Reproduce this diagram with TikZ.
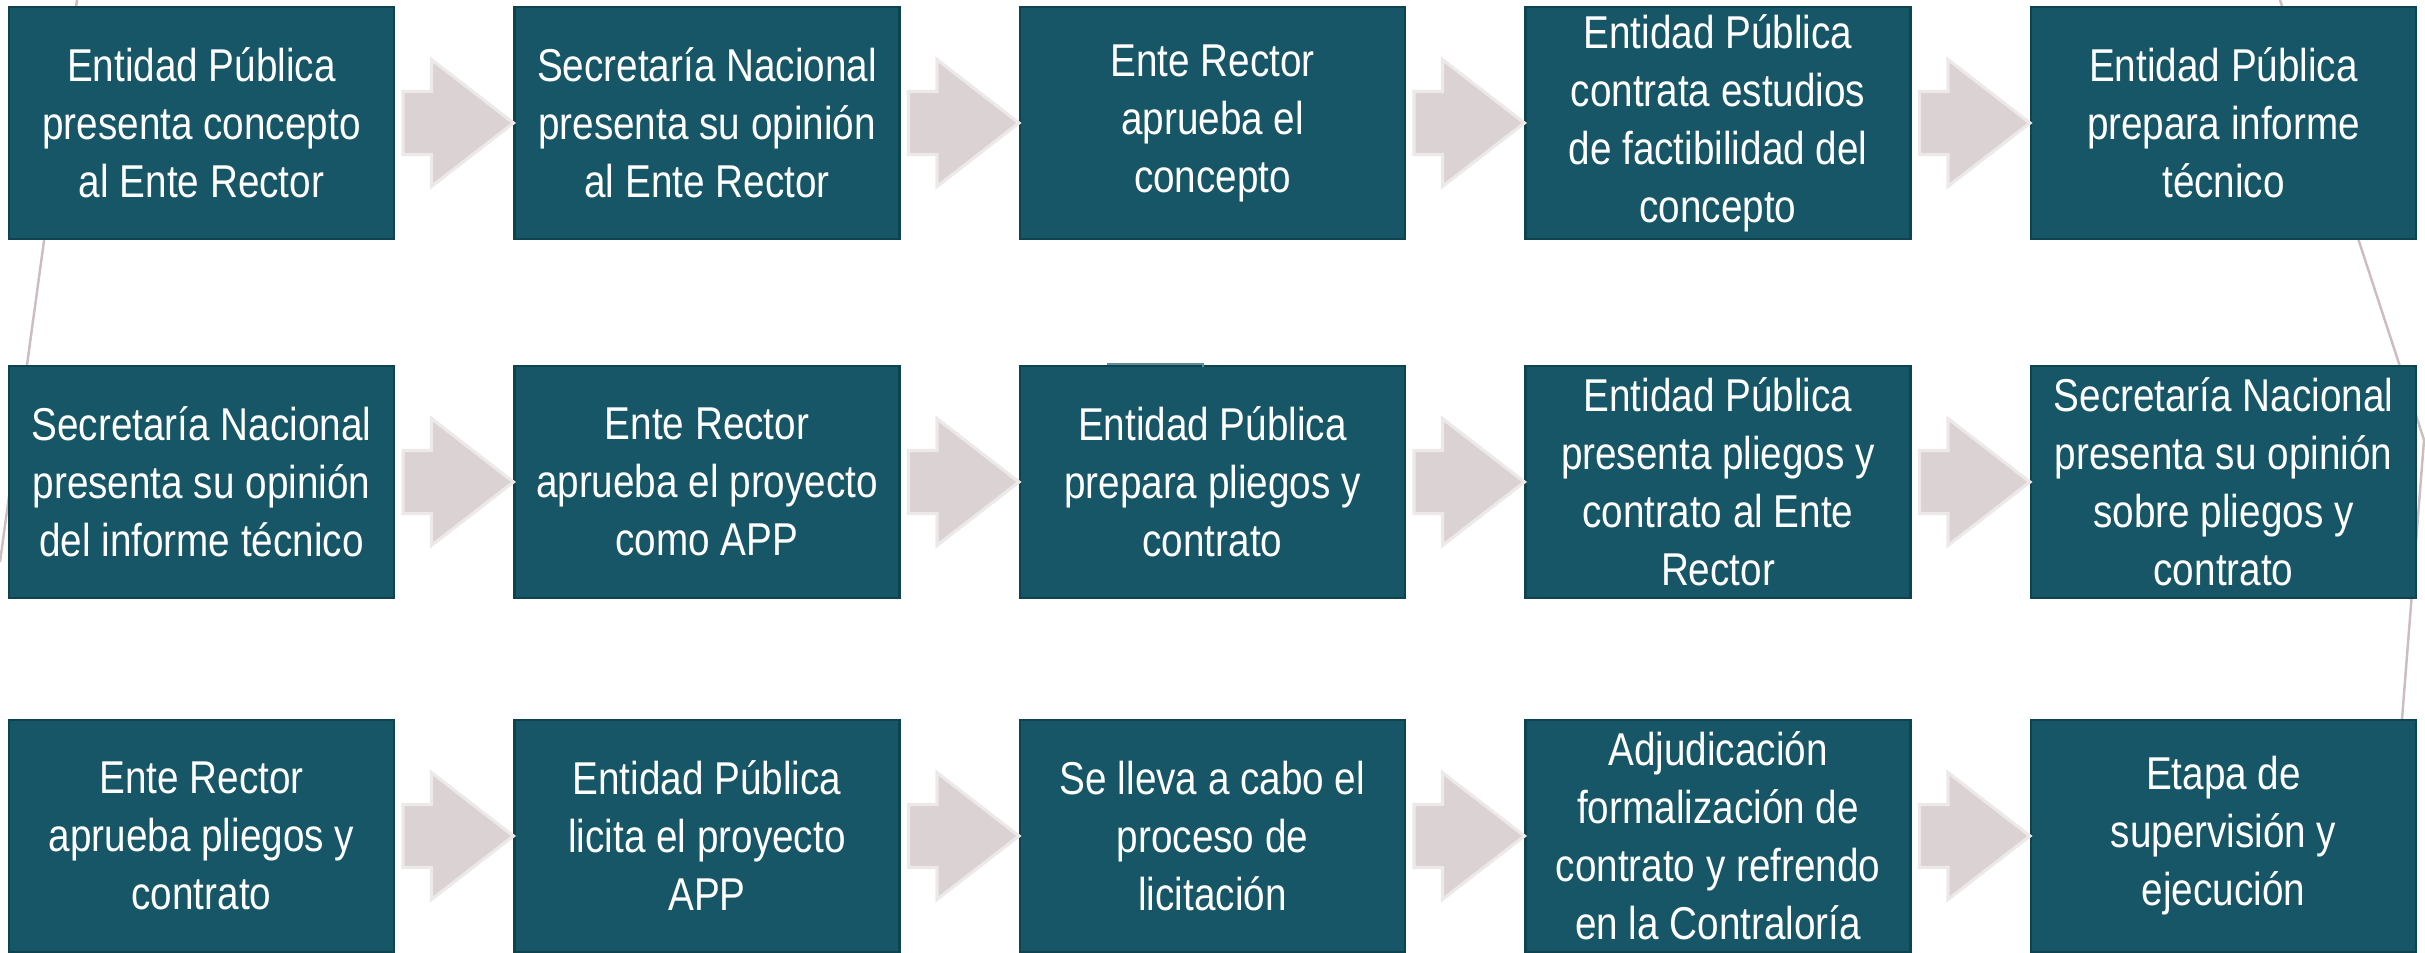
\documentclass[tikz,border=0pt]{standalone}
\usepackage{fontspec}
\setmainfont{Liberation Sans}[FakeStretch=0.84]
\usetikzlibrary{calc}
\usetikzlibrary{math}

\begin{document}
\begin{tikzpicture}[
    stepbox/.style={draw=boxEdge, line width=0.6pt, fill=boxFill, text=white,
        minimum width=\boxW cm, minimum height=\boxH cm, inner sep=0pt,
        align=center, font=\fontsize{13.1}{16.5}\selectfont},
    steparrow/.style={draw=arrowEdge, line width=0.9pt, fill=arrowFill},
    wrapline/.style={draw=lineGray, line width=0.7pt}
]
    \definecolor{boxFill}{HTML}{175666}
    \definecolor{boxEdge}{HTML}{0E4350}
    \definecolor{arrowFill}{HTML}{DBD3D3}
    \definecolor{arrowEdge}{HTML}{EEE9E9}
    \definecolor{lineGray}{HTML}{CDBDBF}
    \definecolor{stubTeal}{HTML}{5E8E99}

    \tikzmath {
        \picW = 24.25;
        \picH = 9.53;
        \boxW = 3.85;
        \boxH = 2.32;
        \dCol = 5.055;
        \padL = 0.09;
        \rowA = 8.30;
        \rowB = 4.71;
        \rowC = 1.17;
        \gap = 0.08;
        \shaftH = 0.315;
        \headH = 0.635;
        \headL = 0.82;
    }

    \useasboundingbox (0,0) rectangle (\picW, \picH);

    % thin lines behind the boxes
    \draw[wrapline] (0.77, \picH) -- (0, 3.91);
    \draw[wrapline] (22.80, \picH) -- (24.24, 5.13) -- (24.02, 2.34) -- (23.95, 1.5);

    % first row
    \foreach \c/\txt in {
        1/{Entidad Pública\\presenta concepto\\al Ente Rector},
        2/{Secretaría Nacional\\presenta su opinión\\al Ente Rector},
        3/{Ente Rector\\aprueba el\\concepto},
        4/{Entidad Pública\\contrata estudios\\de factibilidad del\\concepto},
        5/{Entidad Pública\\prepara informe\\técnico}}
    {
        \node[stepbox] (step_1_\c) at (\padL + \boxW / 2 + \dCol * \c - \dCol, \rowA) {\txt};
    }

    % second row
    \foreach \c/\txt in {
        1/{Secretaría Nacional\\presenta su opinión\\del informe técnico},
        2/{Ente Rector\\aprueba el proyecto\\como APP},
        3/{Entidad Pública\\prepara pliegos y\\contrato},
        4/{Entidad Pública\\presenta pliegos y\\contrato al Ente\\Rector},
        5/{Secretaría Nacional\\presenta su opinión\\sobre pliegos y\\contrato}}
    {
        \node[stepbox] (step_2_\c) at (\padL + \boxW / 2 + \dCol * \c - \dCol, \rowB) {\txt};
    }

    % third row
    \foreach \c/\txt in {
        1/{Ente Rector\\aprueba pliegos y\\contrato},
        2/{Entidad Pública\\licita el proyecto\\APP},
        3/{Se lleva a cabo el\\proceso de\\licitación},
        4/{Adjudicación\\formalización de\\contrato y refrendo\\en la Contraloría},
        5/{Etapa de\\supervisión y\\ejecución}}
    {
        \node[stepbox] (step_3_\c) at (\padL + \boxW / 2 + \dCol * \c - \dCol, \rowC) {\txt};
    }

    % block arrows between the steps
    \foreach \r in {1,2,3}
    {
        \foreach \c [evaluate=\c as \n using int(\c+1)] in {1,...,4}
        {
            \draw[steparrow] ($(step_\r_\c.east) + (\gap, \shaftH)$)
                -- ($(step_\r_\n.west) + (-\headL, \shaftH)$)
                -- ($(step_\r_\n.west) + (-\headL, \headH)$)
                -- (step_\r_\n.west)
                -- ($(step_\r_\n.west) + (-\headL, -\headH)$)
                -- ($(step_\r_\n.west) + (-\headL, -\shaftH)$)
                -- ($(step_\r_\c.east) + (\gap, -\shaftH)$) -- cycle;
        }
    }

    % small stub on top of the third box of the second row
    \draw[stubTeal, line width=0.8pt] (11.07, 5.89) -- (12.03, 5.89) -- (12.03, 5.86);

\end{tikzpicture}
\end{document}
